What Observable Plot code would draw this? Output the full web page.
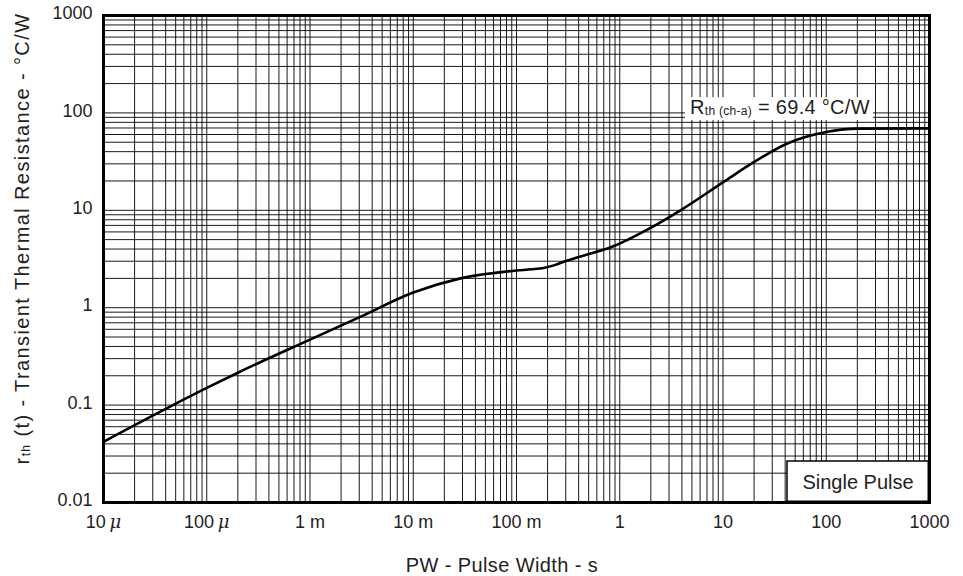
<!DOCTYPE html>
<html><head><meta charset="utf-8">
<script src="https://cdn.jsdelivr.net/npm/d3@7"></script>
<script src="https://cdn.jsdelivr.net/npm/@observablehq/plot@0.6"></script>
<style>
body{margin:0;background:#fff}
#chart svg{font-family:"Liberation Sans",Arial,sans-serif;background:#fff}
</style>
</head><body><div id="chart"></div>
<script>
// Transient thermal resistance vs pulse width (single pulse)
const pulseWidth = [1e-5, 1e-4, 2e-4, 1e-3, 3.1e-3, 1e-2, 0.0287, 0.1, 0.14, 0.183, 0.23, 0.312, 0.5, 0.81, 1.99, 3.87, 10.6, 19.7, 42, 103, 200, 1000];
const rth        = [0.042, 0.15, 0.215, 0.47, 0.81, 1.43, 2.0, 2.41, 2.48, 2.56, 2.72, 3.05, 3.55, 4.15, 6.6, 10, 20.2, 31, 48.5, 64, 69, 69.4];

const xTickValues = [1e-5, 1e-4, 1e-3, 1e-2, 1e-1, 1, 10, 100, 1000];
const xTickLabels = ["10μ", "100μ", "1 m", "10 m", "100 m", "1", "10", "100", "1000"];
const yTickValues = [0.01, 0.1, 1, 10, 100, 1000];
const yTickLabels = ["0.01", "0.1", "1", "10", "100", "1000"];

const xTitle = "PW - Pulse Width - s";
const rthNote = {main: "R", sub: "th (ch-a)", rest: " = 69.4 °C/W"};
const pulseNote = "Single Pulse";

const data = pulseWidth.map((t, i) => ({t, r: rth[i]}));

// log-decade grid (1..9 × 10^k)
const gridX = d3.range(-5, 3).flatMap(e => d3.range(1, 10).map(m => m * 10 ** e)).concat([1000]);
const gridY = d3.range(-2, 3).flatMap(e => d3.range(1, 10).map(m => m * 10 ** e)).concat([1000]);

const plot = Plot.plot({
  width: 963, height: 576,
  marginLeft: 103, marginRight: 34, marginTop: 15, marginBottom: 74,
  x: {type: "log", domain: [1e-5, 1000], axis: null},
  y: {type: "log", domain: [0.01, 1000], axis: null},
  marks: [
    Plot.ruleX(gridX, {x: d => d, stroke: "#000", strokeWidth: 1, strokeOpacity: 0.9}),
    Plot.ruleY(gridY, {y: d => d, stroke: "#000", strokeWidth: 1, strokeOpacity: 0.9}),
    Plot.line(data, {x: "t", y: "r", curve: "monotone-x", stroke: "#000", strokeWidth: 2.6}),
    Plot.frame({stroke: "#000", strokeWidth: 3}),
    Plot.text(xTickValues, {x: d => d, frameAnchor: "bottom", dy: 20, text: (d, i) => xTickLabels[i],
      fontSize: 18, fill: "#222", textAnchor: "middle", lineAnchor: "middle"}),
    Plot.text(yTickValues, {y: d => d, frameAnchor: "left", dx: -11, dy: -2, text: (d, i) => yTickLabels[i],
      fontSize: 18, fill: "#222", textAnchor: "end", lineAnchor: "middle"})
  ]
});
document.getElementById("chart").appendChild(plot);

const svg = d3.select(plot);
const xs = plot.scale("x"), ys = plot.scale("y");
const [x0, x1] = xs.range, [y0, y1] = ys.range; // y0 bottom, y1 top

// italic μ in tick labels
svg.selectAll("text").each(function () {
  const s = this.textContent;
  if (s.includes("μ") && this.childNodes.length === 1) {
    const base = s.replace("μ", "");
    this.textContent = base;
    d3.select(this).append("tspan").attr("font-style", "italic").attr("font-family", "DejaVu Serif").text("\u2009μ");
  }
});

// Rth annotation with white backing
const g1 = svg.append("g");
const bg1 = g1.append("rect").attr("fill", "#fff");
const t1 = g1.append("text").attr("x", 690).attr("y", ys.apply(96)).attr("text-anchor", "start")
  .attr("fill", "#222").attr("font-size", 20).attr("letter-spacing", 0.3);
t1.append("tspan").text(rthNote.main);
t1.append("tspan").attr("font-size", 12).attr("dy", 1).text(rthNote.sub);
t1.append("tspan").attr("dy", -1).text(rthNote.rest);
const b1 = t1.node().getBBox();
bg1.attr("x", b1.x - 5).attr("y", b1.y + 1).attr("width", b1.width + 8).attr("height", b1.height + 1);

// Single Pulse box at bottom-right corner
const bw = 142, bh = 41;
svg.append("rect").attr("x", x1 - bw).attr("y", y0 - bh).attr("width", bw).attr("height", bh)
  .attr("fill", "#fff").attr("stroke", "#000").attr("stroke-width", 1.5);
svg.append("rect").attr("x", x1 - 1.5).attr("y", y0 - bh).attr("width", 3).attr("height", bh).attr("fill", "#000");
svg.append("rect").attr("x", x1 - bw).attr("y", y0 - 1.5).attr("width", bw + 1.5).attr("height", 3).attr("fill", "#000");
svg.append("text").attr("x", x1 - bw / 2).attr("y", y0 - bh / 2).attr("dy", "0.35em")
  .attr("text-anchor", "middle").attr("font-size", 20).attr("fill", "#222").text(pulseNote);

// Axis titles
svg.append("text").attr("x", (x0 + x1) / 2 - 14).attr("y", 572).attr("text-anchor", "middle")
  .attr("font-size", 20).attr("letter-spacing", 0.4).attr("fill", "#222").text(xTitle);
const yt = svg.append("text").attr("transform", `translate(29,${(y0 + y1) / 2 - 20}) rotate(-90)`)
  .attr("text-anchor", "middle").attr("font-size", 20).attr("letter-spacing", 1.4).attr("fill", "#222");
yt.append("tspan").text("r");
yt.append("tspan").attr("font-size", 12).attr("dy", 1).text("th");
yt.append("tspan").attr("dy", -1).text(" (t) - Transient Thermal Resistance - °C/W");
</script>
</body></html>
